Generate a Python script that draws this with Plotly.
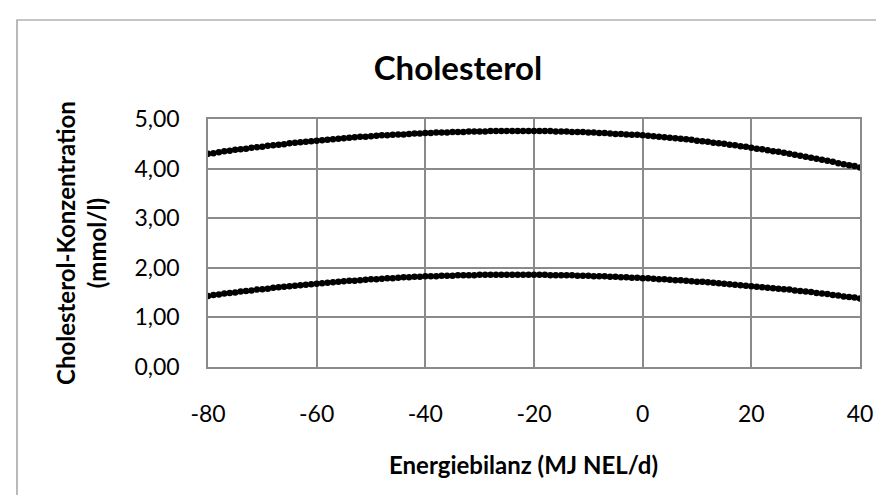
import plotly.graph_objects as go

# Energiebilanz (MJ NEL/d), one point per unit from -80 to 40
energy = list(range(-80, 41))

# Upper curve (mmol/l)
chol_upper = [
    4.30, 4.31, 4.33, 4.35, 4.36, 4.38, 4.39, 4.40, 4.42, 4.43,
    4.44, 4.46, 4.47, 4.48, 4.49, 4.51, 4.52, 4.53, 4.54, 4.55,
    4.56, 4.57, 4.58, 4.59, 4.60, 4.61, 4.62, 4.63, 4.64, 4.64,
    4.65, 4.66, 4.67, 4.67, 4.68, 4.69, 4.69, 4.70, 4.71, 4.71,
    4.72, 4.72, 4.73, 4.73, 4.73, 4.74, 4.74, 4.74, 4.75, 4.75,
    4.75, 4.75, 4.76, 4.76, 4.76, 4.76, 4.76, 4.76, 4.76,
    4.76, 4.76, 4.76, 4.76, 4.76, 4.75, 4.75, 4.75, 4.74, 4.74,
    4.74, 4.73, 4.73, 4.72, 4.72, 4.71, 4.70, 4.70, 4.69, 4.68,
    4.68, 4.67, 4.66, 4.65, 4.64, 4.63, 4.62, 4.61, 4.60, 4.59,
    4.58, 4.56, 4.55, 4.54, 4.52, 4.51, 4.50, 4.48, 4.47, 4.45,
    4.44, 4.42, 4.40, 4.39, 4.37, 4.35, 4.34, 4.32, 4.30, 4.28,
    4.26, 4.24, 4.22, 4.20, 4.18, 4.16, 4.14, 4.11, 4.09, 4.07,
    4.05, 4.02,
]

# Lower curve (mmol/l)
chol_lower = [
    1.43, 1.45, 1.46, 1.48, 1.49, 1.50, 1.52, 1.53, 1.54, 1.56,
    1.57, 1.58, 1.60, 1.61, 1.62, 1.63, 1.64, 1.65, 1.66, 1.67,
    1.68, 1.69, 1.70, 1.71, 1.72, 1.73, 1.74, 1.74, 1.75, 1.76,
    1.77, 1.77, 1.78, 1.79, 1.79, 1.80, 1.81, 1.81, 1.82, 1.82,
    1.83, 1.83, 1.83, 1.84, 1.84, 1.84, 1.85, 1.85, 1.85, 1.85,
    1.86, 1.86, 1.86, 1.86, 1.86, 1.86, 1.86,
    1.86, 1.86, 1.86, 1.86, 1.86, 1.86, 1.85, 1.85, 1.85, 1.85,
    1.85, 1.84, 1.84, 1.84, 1.83, 1.83, 1.83, 1.82, 1.82, 1.81,
    1.81, 1.80, 1.80, 1.79, 1.79, 1.78, 1.77, 1.77, 1.76, 1.75,
    1.75, 1.74, 1.73, 1.72, 1.72, 1.71, 1.70, 1.69, 1.68, 1.67,
    1.66, 1.65, 1.64, 1.63, 1.62, 1.61, 1.60, 1.59, 1.58, 1.57,
    1.56, 1.54, 1.53, 1.52, 1.51, 1.49, 1.48, 1.47, 1.45, 1.44,
    1.42, 1.41, 1.40, 1.38,
]

x_ticks = [-80, -60, -40, -20, 0, 20, 40]
y_ticks = [0, 1, 2, 3, 4, 5]
y_tick_labels = ["0,00", "1,00", "2,00", "3,00", "4,00", "5,00"]

TITLE = "Cholesterol"
X_TITLE = "Energiebilanz (MJ NEL/d)"
Y_TITLE = "Cholesterol-Konzentration<br>(mmol/l)"

FONT = "Lato"
GRID = "#8a8a8a"

W, H = 884, 495
ML, MR, MT, MB = 200, 32, 111, 136
pw = W - ML - MR
ph = H - MT - MB

def px_x(p):
    return (p - ML) / pw

def px_y(p):
    return (H - MB - p) / ph

fig = go.Figure()
for ys in (chol_upper, chol_lower):
    fig.add_trace(go.Scatter(
        x=energy, y=ys, mode="markers",
        marker=dict(symbol="circle", size=6.5, color="black", line=dict(width=0)),
        showlegend=False, hoverinfo="x+y",
    ))

fig.update_layout(
    width=W, height=H,
    margin=dict(l=ML, r=MR, t=MT, b=MB),
    paper_bgcolor="white", plot_bgcolor="white",
    font=dict(family=FONT, color="black"),
    title=dict(text="<b>%s</b>" % TITLE, x=450 / W, xanchor="center",
               y=1 - 60 / H, yanchor="middle",
               font=dict(family=FONT, size=33, color="black")),
    xaxis=dict(range=[-80, 40], tickvals=x_ticks, ticktext=[str(v) for v in x_ticks],
               showgrid=True, gridcolor=GRID, gridwidth=1.5,
               showline=True, linecolor=GRID, linewidth=1.5, mirror=True,
               zeroline=False, ticks="", ticklabelstandoff=26,
               tickfont=dict(family=FONT, size=23, color="black")),
    yaxis=dict(range=[0, 5], tickvals=y_ticks, ticktext=y_tick_labels,
               showgrid=True, gridcolor=GRID, gridwidth=1.5,
               showline=True, linecolor=GRID, linewidth=1.5, mirror=True,
               zeroline=False, ticks="", ticklabelstandoff=22,
               tickfont=dict(family=FONT, size=23, color="black")),
    annotations=[
        dict(text="<b>%s</b>" % X_TITLE, xref="paper", yref="paper",
             x=px_x(515), y=px_y(457), xanchor="center", yanchor="middle",
             showarrow=False, font=dict(family=FONT, size=24, color="black")),
        dict(text="<b>%s</b>" % Y_TITLE, xref="paper", yref="paper",
             x=px_x(73), y=0.5, xanchor="center", yanchor="middle",
             textangle=-90, showarrow=False,
             font=dict(family=FONT, size=24, color="black")),
    ],
    shapes=[
        dict(type="rect", xref="paper", yref="paper",
             x0=px_x(9), x1=px_x(895), y0=px_y(505), y1=px_y(12),
             line=dict(color="#8c8c8c", width=1.2), fillcolor="rgba(0,0,0,0)",
             layer="below"),
    ],
)

fig.write_html("out.html")
